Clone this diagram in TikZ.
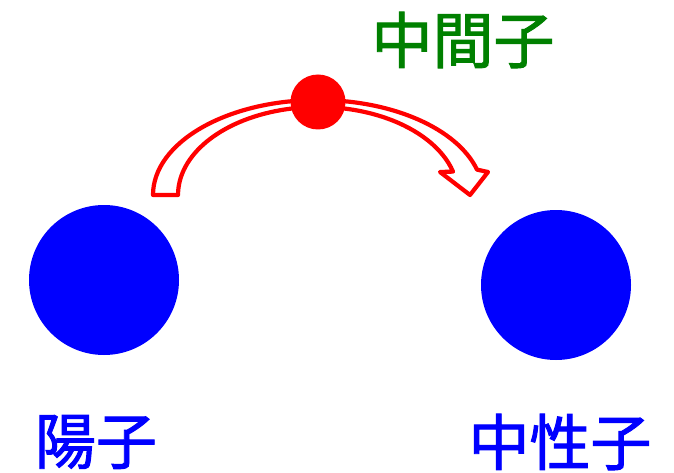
\documentclass[tikz,border=0pt]{standalone}
\usepackage{fontspec}
\newfontfamily\cjk{Noto Sans CJK JP}[FakeBold=1.6]
\definecolor{pblue}{RGB}{0,0,255}
\definecolor{pgreen}{RGB}{0,128,0}
\definecolor{pred}{RGB}{255,0,0}
\tikzset{
  ball/.style={circle, fill=pblue, draw=none, minimum size=150pt, inner sep=0pt},
  meson/.style={circle, fill=pred, draw=none, minimum size=55pt, inner sep=0pt},
  lbl/.style={font=\cjk\fontsize{61}{61}\selectfont, inner sep=0pt, anchor=center},
  blockarrow/.style={draw=pred, fill=white, line width=4.2pt, line join=round}
}
\begin{document}
\begin{tikzpicture}[x=1pt,y=1pt]
\useasboundingbox (0,0) rectangle (674,472);
\node[ball] (proton) at (104,192) {};
\node[ball] (neutron) at (556,187) {};
% curved block arrow
\coordinate (c) at (318,277);
\draw[blockarrow] (153,277)
  arc[start angle=180, end angle=15.5, x radius=165, y radius=95]
  -- (488,300) -- (470,277) -- (440,300) -- (453,300.4)
  arc[start angle=15.4, end angle=180, x radius=140, y radius=88]
  -- cycle;
\node[meson] (pion) at (318,370) {};
\node[lbl, text=pgreen] (mlabel) at (463,432) {中間子};
\node[lbl, text=pblue] (plabel) at (96,30) {陽子};
\node[lbl, text=pblue] (nlabel) at (560,30) {中性子};
\end{tikzpicture}
\end{document}
